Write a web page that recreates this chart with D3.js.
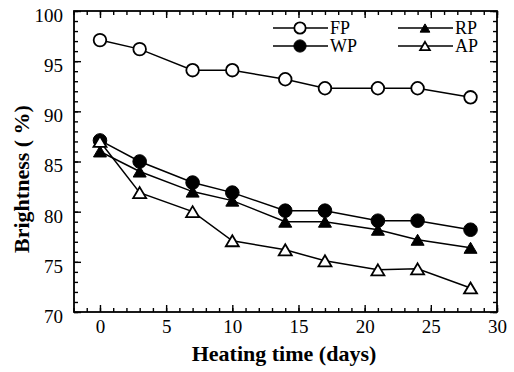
<!DOCTYPE html>
<html>
<head>
<meta charset="utf-8">
<script src="https://cdn.jsdelivr.net/npm/d3@7"></script>
<style>
  html, body { margin: 0; padding: 0; background: #fff; }
  svg { display: block; }
</style>
</head>
<body>
<svg id="chart" width="514" height="372"></svg>
<script>
// Heating time (days) at which brightness was measured
const days = [0, 3, 7, 10, 14, 17, 21, 24, 28];

// Brightness (%) for each pulp type
const fpValues = [97.1, 96.2, 94.1, 94.1, 93.2, 92.3, 92.3, 92.3, 91.4];
const wpValues = [87.1, 85.0, 82.9, 81.9, 80.1, 80.1, 79.1, 79.1, 78.2];
const rpValues = [86.0, 84.0, 82.0, 81.1, 79.0, 79.0, 78.2, 77.2, 76.4];
const apValues = [87.0, 81.9, 80.0, 77.1, 76.2, 75.1, 74.2, 74.3, 72.4];

const seriesNames = ["FP", "WP", "RP", "AP"];
const seriesValues = [fpValues, wpValues, rpValues, apValues];
const seriesMarkers = ["openCircle", "filledCircle", "filledTriangle", "openTriangle"];

const xTicks = [0, 5, 10, 15, 20, 25, 30];
const yTicks = [70, 75, 80, 85, 90, 95, 100];

const FONT = "'Liberation Serif', 'Times New Roman', Times, serif";

const svg = d3.select("#chart");
const plotLeft = 74, plotRight = 497, plotTop = 11, plotBottom = 312;

const x = d3.scaleLinear().domain([-2, 30]).range([plotLeft - 0.5, plotRight]);
const y = d3.scaleLinear().domain([70, 100]).range([plotBottom, plotTop]);

// Axes with inward ticks on all four sides
function styleAxis(g) {
  g.attr("font-family", null).attr("font-size", null);
  g.select(".domain").remove();
  g.selectAll(".tick line").attr("stroke", "#000").attr("stroke-width", 1.4);
  g.selectAll(".tick text")
    .style("font-family", FONT).style("font-size", "19px").attr("fill", "#000");
}

const xMinor = d3.range(-2, 31, 1);
const yMinor = d3.range(70, 101, 1);

// bottom
svg.append("g").attr("transform", `translate(0,${plotBottom})`)
  .call(d3.axisBottom(x).tickValues(xMinor).tickSize(-4).tickFormat(""))
  .call(styleAxis);
svg.append("g").attr("transform", `translate(0,${plotBottom})`)
  .call(d3.axisBottom(x).tickValues(xTicks).tickSize(-7).tickPadding(21).tickFormat(d3.format("d")))
  .call(styleAxis)
  .call(g => g.selectAll(".tick text").attr("dy", "0"));
// top
svg.append("g").attr("transform", `translate(0,${plotTop})`)
  .call(d3.axisTop(x).tickValues(xMinor).tickSize(-4).tickFormat(""))
  .call(styleAxis);
svg.append("g").attr("transform", `translate(0,${plotTop})`)
  .call(d3.axisTop(x).tickValues(xTicks).tickSize(-7).tickFormat(""))
  .call(styleAxis);
// left
svg.append("g").attr("transform", `translate(${plotLeft},0)`)
  .call(d3.axisLeft(y).tickValues(yMinor).tickSize(-4).tickFormat(""))
  .call(styleAxis);
svg.append("g").attr("transform", `translate(${plotLeft},0)`)
  .call(d3.axisLeft(y).tickValues(yTicks).tickSize(-7).tickPadding(11).tickFormat(d3.format("d")))
  .call(styleAxis)
  .call(g => g.selectAll(".tick text").attr("dy", "0.55em"));
// right
svg.append("g").attr("transform", `translate(${plotRight},0)`)
  .call(d3.axisRight(y).tickValues(yMinor).tickSize(-4).tickFormat(""))
  .call(styleAxis);
svg.append("g").attr("transform", `translate(${plotRight},0)`)
  .call(d3.axisRight(y).tickValues(yTicks).tickSize(-7).tickFormat(""))
  .call(styleAxis);

// plot frame
svg.append("rect")
  .attr("x", plotLeft).attr("y", plotTop)
  .attr("width", plotRight - plotLeft).attr("height", plotBottom - plotTop)
  .attr("fill", "none").attr("stroke", "#000").attr("stroke-width", 1.8);

// markers (scale k shrinks them for the legend)
function drawMarker(g, kind, k = 1) {
  if (kind === "openCircle" || kind === "filledCircle") {
    g.append("circle")
      .attr("r", (kind === "openCircle" ? 6.3 : 6.8) * (k < 1 ? 0.9 : 1))
      .attr("fill", kind === "openCircle" ? "#fff" : "#000")
      .attr("stroke", "#000").attr("stroke-width", kind === "openCircle" ? 1.8 : 1);
  } else {
    const w = 13 * k, h = 11 * k;
    g.append("path")
      .attr("d", `M0,${-h / 2}L${w / 2},${h / 2}L${-w / 2},${h / 2}Z`)
      .attr("fill", kind === "openTriangle" ? "#fff" : "#000")
      .attr("stroke", "#000").attr("stroke-width", kind === "openTriangle" ? 1.8 : 1)
      .attr("stroke-linejoin", "miter");
  }
}

const line = d3.line().x(d => x(d[0])).y(d => y(d[1]));

seriesValues.forEach((vals, i) => {
  const pts = days.map((d, j) => [d, vals[j]]);
  svg.append("path").datum(pts)
    .attr("d", line).attr("fill", "none")
    .attr("stroke", "#000").attr("stroke-width", 1.5);
});
seriesValues.forEach((vals, i) => {
  const pts = days.map((d, j) => [d, vals[j]]);
  svg.append("g").selectAll("g").data(pts).join("g")
    .attr("transform", d => `translate(${x(d[0])},${y(d[1])})`)
    .each(function () { drawMarker(d3.select(this), seriesMarkers[i]); });
});

// legend: two columns, two rows
const legendPos = [
  { lx: 273, ly: 28 }, { lx: 273, ly: 46 },
  { lx: 398, ly: 28 }, { lx: 398, ly: 46 }
];
seriesNames.forEach((name, i) => {
  const p = legendPos[i];
  const g = svg.append("g").attr("transform", `translate(${p.lx},${p.ly})`);
  g.append("line").attr("x1", 0).attr("x2", 55).attr("y1", 0).attr("y2", 0)
    .attr("stroke", "#000").attr("stroke-width", 1.5);
  const m = g.append("g").attr("transform", "translate(27,0)");
  drawMarker(m, seriesMarkers[i], 0.75);
  g.append("text").attr("x", 57).attr("y", 6)
    .style("font-family", FONT).style("font-size", "18px").text(name);
});

// axis titles
svg.append("text")
  .attr("x", 284).attr("y", 361)
  .attr("text-anchor", "middle")
  .style("font-family", FONT).style("font-size", "22px").style("font-weight", "bold")
  .text("Heating time (days)");
svg.append("text")
  .attr("transform", "translate(29,179) rotate(-90)")
  .attr("text-anchor", "middle")
  .style("font-family", FONT).style("font-size", "22px").style("font-weight", "bold")
  .text("Brightness ( %)");
</script>
</body>
</html>
